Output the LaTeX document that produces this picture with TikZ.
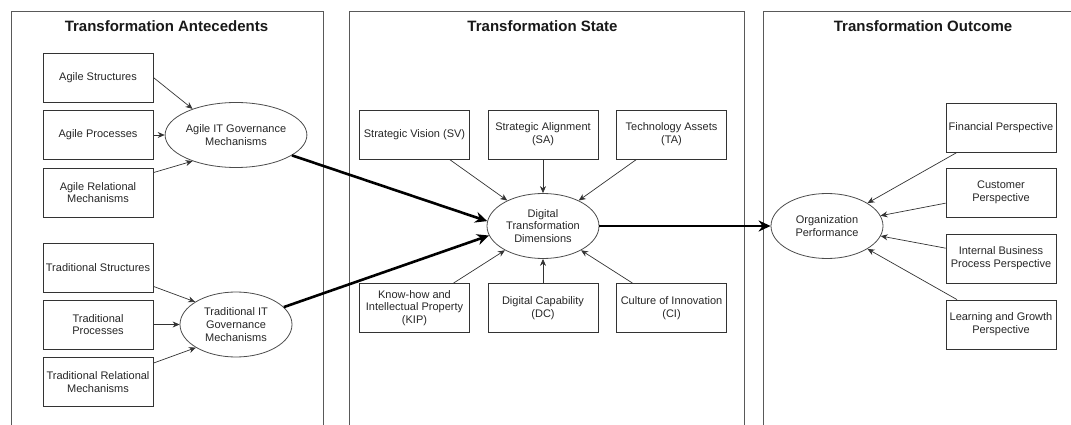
\documentclass[tikz,border=0pt]{standalone}
\usepackage{fontspec}
\setmainfont{Liberation Sans}
\usetikzlibrary{arrows.meta,shapes.geometric}
\begin{document}
\begin{tikzpicture}[x=1pt,y=-1pt,
  box/.style={draw=black!80, line width=0.8pt, minimum width=110pt, minimum height=49pt, inner sep=1pt, align=center, font=\fontsize{11}{12.7}\selectfont, text=black!85},
  ell/.style={draw=black!70, line width=0.8pt, ellipse, minimum width=112pt, minimum height=65pt, inner sep=0pt, align=center, font=\fontsize{11}{12.7}\selectfont, text=black!85},
  panel/.style={draw=black!65, line width=1pt},
  title/.style={font=\fontsize{15}{18}\selectfont\bfseries, text=black!90},
  thin/.style={draw=black!80, line width=0.7pt, -{Stealth[length=7pt,width=6pt]}},
  thick/.style={draw=black, line width=2.6pt, -{Stealth[length=12pt,width=11pt]}}]
\useasboundingbox (0,0) rectangle (1071,425);
\clip (0,0) rectangle (1071,425);
% panels
\draw[panel] (11.5,430) -- (11.5,12) -- (323,12) -- (323,430);
\draw[panel] (349,430) -- (349,12) -- (744,12) -- (744,430);
\draw[panel] (763,430) -- (763,12) -- (1080,12);
\node[title] (t1) at (166.5,26) {Transformation Antecedents};
\node[title] (t2) at (542.5,26) {Transformation State};
\node[title] (t3) at (923,26) {Transformation Outcome};
% left
\node[box] (as) at (98,77.5) {Agile Structures};
\node[box] (ap) at (98,135) {Agile Processes};
\node[box] (ar) at (98,192.5) {Agile Relational\\Mechanisms};
\node[ell] (ag) at (236,135) {Agile IT Governance\\Mechanisms};
\node[box] (ts) at (98,267.5) {Traditional Structures};
\node[box] (tp) at (98,324.5) {Traditional\\Processes};
\node[box] (tr) at (98,382) {Traditional Relational\\Mechanisms};
\node[ell] (tg) at (236,324.5) {Traditional IT\\Governance\\Mechanisms};
% middle
\node[box] (sv) at (414.5,134.5) {Strategic Vision (SV)};
\node[box] (sa) at (543,134.5) {Strategic Alignment\\(SA)};
\node[box] (ta) at (671.5,134.5) {Technology Assets\\(TA)};
\node[box] (kip) at (414.5,308) {Know-how and\\Intellectual Property\\(KIP)};
\node[box] (dc) at (543,308) {Digital Capability\\(DC)};
\node[box] (ci) at (671.5,308) {Culture of Innovation\\(CI)};
\node[ell] (dtd) at (543,226) {Digital\\Transformation\\Dimensions};
% right
\node[box] (fin) at (1001,127.5) {Financial Perspective};
\node[box] (cus) at (1001,192.5) {Customer\\Perspective};
\node[box] (ibp) at (1001,258.5) {Internal Business\\Process Perspective};
\node[box] (lg) at (1001,324.5) {Learning and Growth\\Perspective};
\node[ell] (org) at (827,226) {Organization\\Performance};
% thin connectors
\draw[thin] (as.east) -- (ag.149);
\draw[thin] (ap.east) -- (ag.west);
\draw[thin] ([yshift=-5pt]ar.north east) -- (ag.211);
\draw[thin] ([yshift=6pt]ts.south east) -- (tg.151);
\draw[thin] (tp.east) -- (tg.west);
\draw[thin] ([yshift=-6pt]tr.north east) -- (tg.210);
\foreach \n in {sv,sa,ta,kip,dc,ci} \draw[thin] (\n) -- (dtd);
\foreach \n in {fin,cus,ibp,lg} \draw[thin] (\n) -- (org);
% thick connectors
\draw[thick] (ag.340) -- (dtd.175);
\draw[thick] (tg.20) -- (dtd.190);
\draw[thick] (dtd.east) -- (org.west);
\end{tikzpicture}
\end{document}
